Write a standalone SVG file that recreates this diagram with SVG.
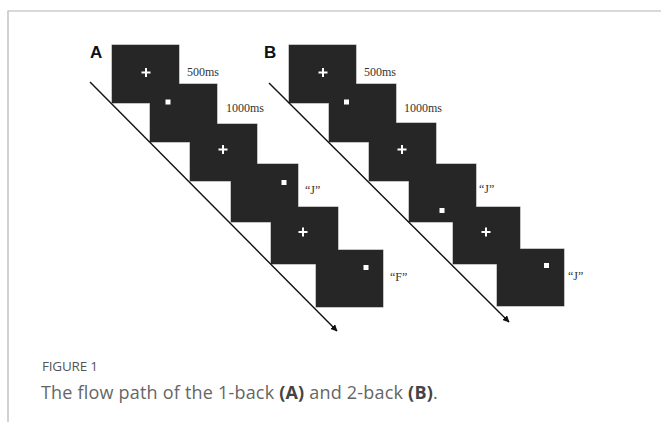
<svg xmlns="http://www.w3.org/2000/svg" width="661" height="422" viewBox="0 0 661 422">
<style>
.frame{fill:none;stroke:#b4b4b4;stroke-width:1.2}
.scr{fill:#262626;stroke:#8a8a8a;stroke-width:1}
.scrf{fill:#262626;stroke:none}
.cross{stroke:#fff;stroke-width:2;fill:none}
.dot{fill:#fff}
.lab{font-family:"Liberation Serif",serif;font-size:12px;fill:#333}
.pan{font-family:"Liberation Sans",Arial,sans-serif;font-weight:bold;font-size:17px;fill:#111}
.flow{stroke:#111;stroke-width:1.4;fill:none;marker-end:url(#ah)}
.fig{font-family:"Open Sans",sans-serif;font-size:13.5px;fill:#555;letter-spacing:-0.2px}
.cap{font-family:"Open Sans",sans-serif;font-size:18px;fill:#666;letter-spacing:0.2px}
.capb{font-weight:bold;fill:#444}
</style>
<defs>
<marker id="ah" viewBox="0 0 10 10" refX="9" refY="5" markerWidth="7" markerHeight="7" markerUnits="userSpaceOnUse" orient="auto">
<path d="M0,0 L10,5 L0,10 z" fill="#111"/>
</marker>
</defs>
<rect width="661" height="422" fill="#fff"/>
<path class="frame" d="M8,422 V11 H661"/>

<g id="panelA">
<text class="pan" x="90" y="58">A</text>
<g id="a-screens">
<rect class="scr" x="112" y="45" width="67" height="58"/>
<rect class="scr" x="150" y="84" width="67" height="58"/>
<rect class="scr" x="190" y="124" width="67" height="57"/>
<rect class="scr" x="231" y="164" width="67" height="58"/>
<rect class="scr" x="271" y="207" width="67" height="57"/>
<rect class="scr" x="316" y="250" width="67" height="57"/>
<rect class="scrf" x="112" y="45" width="67" height="58"/>
<rect class="scrf" x="150" y="84" width="67" height="58"/>
<rect class="scrf" x="190" y="124" width="67" height="57"/>
<rect class="scrf" x="231" y="164" width="67" height="58"/>
<rect class="scrf" x="271" y="207" width="67" height="57"/>
<rect class="scrf" x="316" y="250" width="67" height="57"/>
</g>
<path class="cross" d="M141.5,72.5 h9 M146,68 v9"/>
<rect class="dot" x="165.5" y="99.5" width="5" height="5"/>
<path class="cross" d="M218.5,149.5 h9 M223,145 v9"/>
<rect class="dot" x="281.5" y="180" width="5" height="5"/>
<path class="cross" d="M298.5,232 h9 M303,227.5 v9"/>
<rect class="dot" x="363.5" y="265" width="5" height="5"/>
<text class="lab" x="187" y="76">500ms</text>
<text class="lab" x="226" y="112">1000ms</text>
<text class="lab" x="305" y="194">“J”</text>
<text class="lab" x="390" y="281">“F”</text>
</g>

<g id="panelB">
<text class="pan" x="264" y="58">B</text>
<g id="b-screens">
<rect class="scr" x="289" y="45" width="67" height="58"/>
<rect class="scr" x="329" y="84" width="67" height="58"/>
<rect class="scr" x="369" y="123" width="67" height="58"/>
<rect class="scr" x="409" y="164" width="67" height="58"/>
<rect class="scr" x="453" y="207" width="67" height="57"/>
<rect class="scr" x="497" y="249" width="67" height="57"/>
<rect class="scrf" x="289" y="45" width="67" height="58"/>
<rect class="scrf" x="329" y="84" width="67" height="58"/>
<rect class="scrf" x="369" y="123" width="67" height="58"/>
<rect class="scrf" x="409" y="164" width="67" height="58"/>
<rect class="scrf" x="453" y="207" width="67" height="57"/>
<rect class="scrf" x="497" y="249" width="67" height="57"/>
</g>
<path class="cross" d="M318.5,72.5 h9 M323,68 v9"/>
<rect class="dot" x="344" y="99.5" width="5" height="5"/>
<path class="cross" d="M397.5,149.5 h9 M402,145 v9"/>
<rect class="dot" x="439.5" y="208" width="5" height="5"/>
<path class="cross" d="M481.5,232 h9 M486,227.5 v9"/>
<rect class="dot" x="544" y="263" width="5" height="5"/>
<text class="lab" x="364" y="76">500ms</text>
<text class="lab" x="404" y="112">1000ms</text>
<text class="lab" x="479" y="193">“J”</text>
<text class="lab" x="568" y="280">“J”</text>
</g>

<g id="connectors">
<line class="flow" x1="90" y1="82" x2="337" y2="331"/>
<line class="flow" x1="269" y1="83" x2="509" y2="322"/>
</g>

<g id="caption">
<text class="fig" x="42" y="371">FIGURE 1</text>
<text class="cap" x="41" y="399">The flow path of the 1-back <tspan class="capb">(A)</tspan> and 2-back <tspan class="capb">(B)</tspan>.</text>
</g>
</svg>
